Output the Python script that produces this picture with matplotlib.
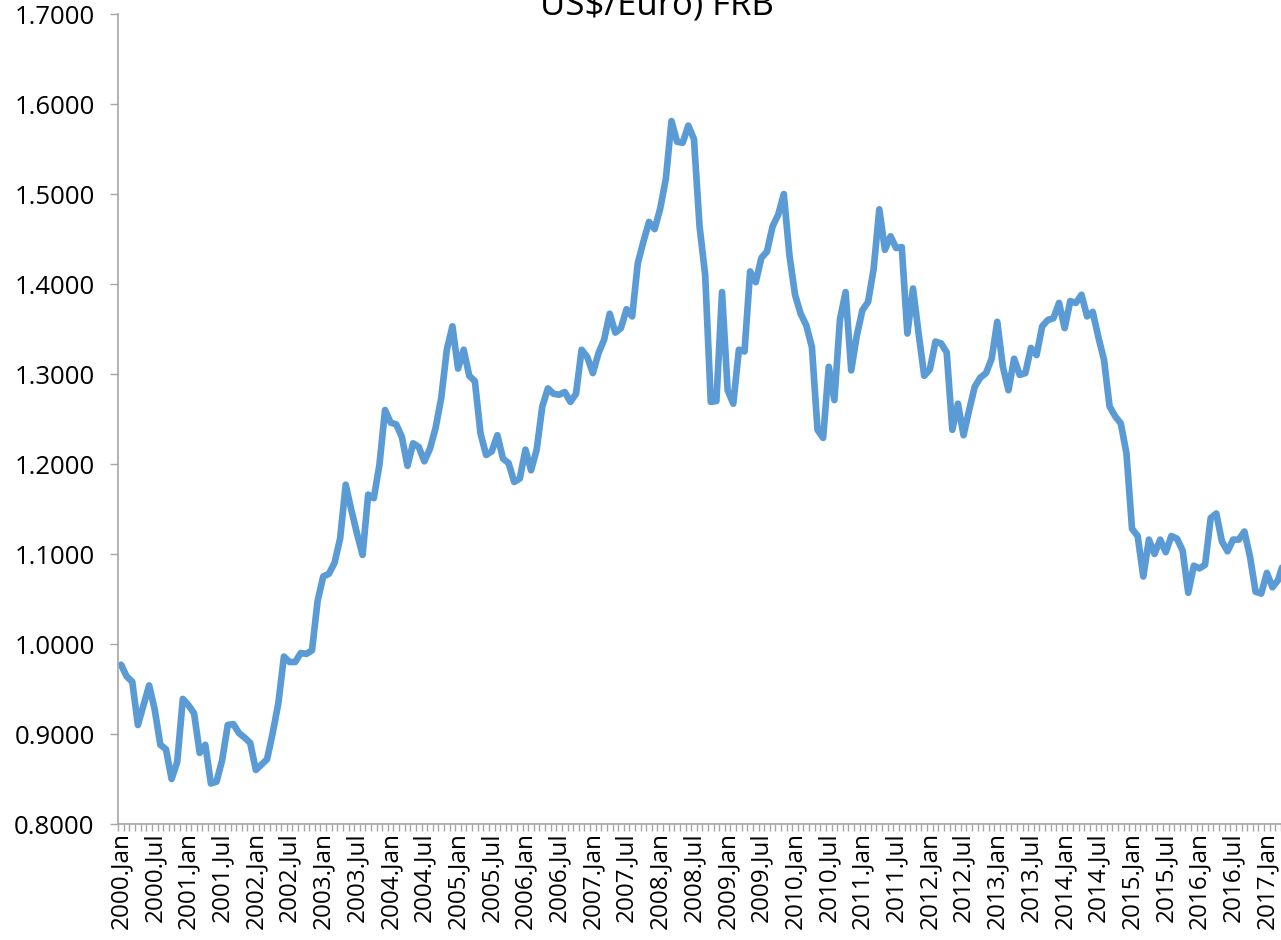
import matplotlib
matplotlib.use("Agg")
import matplotlib.pyplot as plt
from matplotlib.ticker import FixedLocator, FormatStrFormatter

# monthly US$/Euro, 2000.Jan onwards
rates = [
    0.977, 0.964, 0.958, 0.910, 0.932, 0.954, 0.927, 0.888, 0.883, 0.850,
    0.869, 0.939, 0.932, 0.923, 0.879, 0.888, 0.845, 0.847, 0.871, 0.910,
    0.911, 0.901, 0.896, 0.890, 0.860, 0.866, 0.872, 0.901, 0.934, 0.986,
    0.980, 0.980, 0.990, 0.989, 0.993, 1.048, 1.075, 1.078, 1.090, 1.117,
    1.177, 1.149, 1.123, 1.099, 1.166, 1.162, 1.199, 1.260, 1.246, 1.244,
    1.230, 1.198, 1.223, 1.219, 1.203, 1.217, 1.240, 1.273, 1.327, 1.353,
    1.306, 1.327, 1.298, 1.292, 1.234, 1.210, 1.214, 1.232, 1.206, 1.201,
    1.180, 1.184, 1.216, 1.193, 1.216, 1.264, 1.284, 1.278, 1.277, 1.280,
    1.269, 1.278, 1.327, 1.319, 1.301, 1.323, 1.338, 1.367, 1.346, 1.351,
    1.372, 1.364, 1.423, 1.447, 1.469, 1.461, 1.484, 1.517, 1.581, 1.558,
    1.557, 1.576, 1.561, 1.464, 1.410, 1.269, 1.270, 1.391, 1.282, 1.267,
    1.327, 1.325, 1.414, 1.402, 1.429, 1.436, 1.464, 1.477, 1.500, 1.432,
    1.388, 1.367, 1.354, 1.330, 1.238, 1.229, 1.308, 1.271, 1.361, 1.391,
    1.304, 1.343, 1.371, 1.380, 1.417, 1.483, 1.438, 1.453, 1.440, 1.441,
    1.345, 1.395, 1.345, 1.298, 1.305, 1.336, 1.334, 1.324, 1.238, 1.267,
    1.232, 1.260, 1.286, 1.296, 1.301, 1.317, 1.358, 1.308, 1.282, 1.317,
    1.299, 1.301, 1.329, 1.321, 1.353, 1.360, 1.362, 1.379, 1.351, 1.381,
    1.379, 1.388, 1.364, 1.369, 1.341, 1.316, 1.264, 1.253, 1.245, 1.212,
    1.128, 1.120, 1.075, 1.116, 1.100, 1.116, 1.102, 1.120, 1.117, 1.104,
    1.057, 1.087, 1.084, 1.088, 1.140, 1.145, 1.114, 1.103, 1.116, 1.116,
    1.125, 1.097, 1.058, 1.056, 1.079, 1.063, 1.071, 1.091,
]

start_year = 2000
month_names = ["Jan", "Jul"]

n = len(rates)
x = list(range(n))
label_pos = list(range(0, n, 6))
labels = [f"{start_year + p // 12}.{month_names[(p % 12) // 6]}" for p in label_pos]

plt.rcParams['font.family'] = ['Open Sans', 'DejaVu Sans']

fig = plt.figure(figsize=(12.81, 9.40), dpi=100)
ax = fig.add_axes([0.0923, 0.1234, 0.912, 0.8617])

ax.plot(x, rates, color='#5B9BD5', linewidth=4.8, solid_joinstyle='round',
        solid_capstyle='round', clip_on=False)

ax.set_ylim(0.8, 1.7)
ax.set_xlim(-0.5, n - 0.5)
ax.yaxis.set_major_locator(FixedLocator([0.8 + 0.1 * k for k in range(10)]))
ax.yaxis.set_major_formatter(FormatStrFormatter('%.4f'))

ax.set_xticks(label_pos)
ax.set_xticklabels(labels, rotation=90)
ax.xaxis.set_minor_locator(FixedLocator([k - 0.5 for k in range(n + 1)]))

ax.tick_params(axis='x', which='major', length=0, pad=6, labelsize=17.5)
ax.tick_params(axis='x', which='minor', length=5, color='#A6A6A6', width=1)
ax.tick_params(axis='y', which='major', length=6, color='#A6A6A6', width=1,
               labelsize=18.5, pad=11)

for side in ['top', 'right']:
    ax.spines[side].set_visible(False)
for side in ['left', 'bottom']:
    ax.spines[side].set_color('#A6A6A6')
    ax.spines[side].set_linewidth(1.2)

fig.text(0.513, 1 - 15 / 940, "US$/Euro) FRB", ha='center', va='baseline',
         fontsize=25)

fig.savefig("out.png", dpi=100)
